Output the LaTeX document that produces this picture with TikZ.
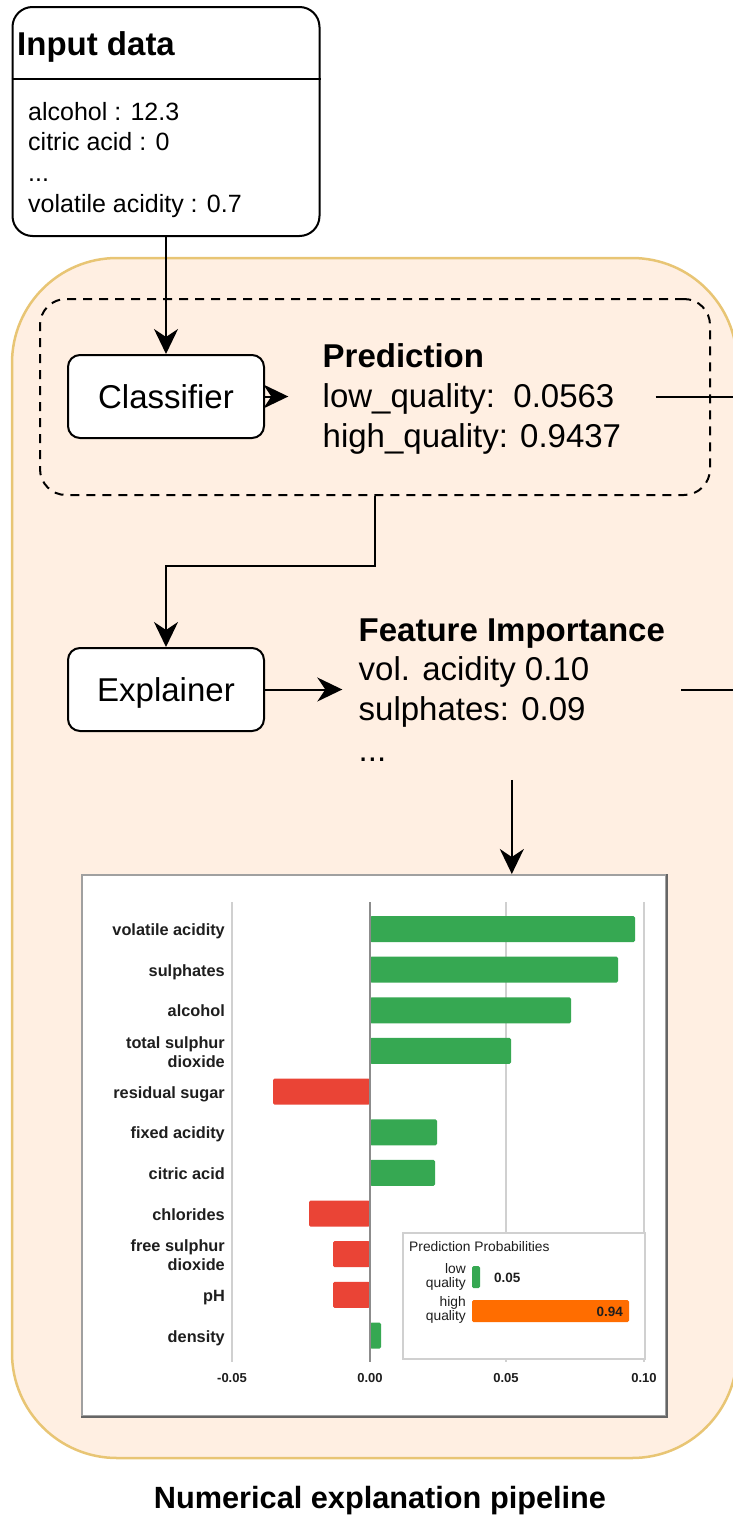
\documentclass[tikz,border=0pt]{standalone}
\usepackage{fontspec}
\setmainfont{Liberation Sans}
\usetikzlibrary{arrows.meta,fit}

\definecolor{panelfill}{HTML}{FFEFE2}
\definecolor{paneldraw}{HTML}{E8C574}
\definecolor{barpos}{HTML}{36A852}
\definecolor{barneg}{HTML}{EA4436}
\definecolor{barhigh}{HTML}{FF6D00}
\definecolor{gridgray}{HTML}{D0D0D0}
\definecolor{axisgray}{HTML}{8C8C8C}
\definecolor{framelight}{HTML}{A0A0A0}
\definecolor{framedark}{HTML}{666666}
\definecolor{labelink}{HTML}{1E1E1E}

\tikzset{
  conn/.style={line width=2pt, draw=black},
  arr/.style={conn, -{Stealth[length=25pt,width=24pt,inset=8pt]}},
  bigtxt/.style={inner sep=0pt, font=\fontsize{33}{40}\selectfont},
  intxt/.style={inner sep=0pt, font=\fontsize{25}{30}\selectfont},
  stagebox/.style={draw=black, line width=2pt, fill=white, rounded corners=12pt,
    minimum width=196pt, minimum height=83pt, inner sep=0pt,
    text height=23.6pt, text depth=0pt, font=\fontsize{33}{40}\selectfont},
  featlab/.style={inner sep=0pt, text=labelink, font=\fontsize{16.3}{19}\selectfont\bfseries},
  ticklab/.style={inner sep=0pt, text=labelink, font=\fontsize{13}{15}\selectfont\bfseries},
  legtxt/.style={inner sep=0pt, text=labelink, font=\fontsize{13.8}{15}\selectfont},
  legnum/.style={inner sep=0pt, text=labelink, font=\fontsize{13.5}{15}\selectfont\bfseries},
  gridln/.style={draw=gridgray, line width=1.5pt},
}

\begin{document}
\begin{tikzpicture}[x=1pt,y=-1pt]
\useasboundingbox (0,0) rectangle (733,1515);

% pipeline panel and the dashed classification group
\node[draw=paneldraw, fill=panelfill, line width=2.5pt, rounded corners=105pt,
      minimum width=725pt, minimum height=1200pt, inner sep=0pt] (panel) at (374.5,858) {};
\node[draw=black, line width=2pt, dash pattern=on 9pt off 7pt, rounded corners=26pt,
      minimum width=670pt, minimum height=196pt, inner sep=0pt] (grp) at (375,397) {};

% input record
\node[draw=black, line width=2pt, fill=white, rounded corners=20pt,
      minimum width=307pt, minimum height=229pt, inner sep=0pt] (inp) at (166,121.5) {};
\draw[conn] (inp.west |- 0,79) -- (inp.east |- 0,79);
\node[bigtxt, anchor=base west, font=\fontsize{33}{40}\selectfont\bfseries] (intitle) at (17,55) {Input data};
\node[intxt, anchor=base west] (in1) at (28,120) {alcohol : 12.3};
\node[intxt, anchor=base west] (in2) at (28,150.5) {citric acid : 0};
\node[intxt, anchor=base west] (in3) at (28,181) {...};
\node[intxt, anchor=base west] (in4) at (28,212) {volatile acidity : 0.7};

% processing stages
\node[stagebox] (cls) at (166,396.5) {Classifier};
\node[stagebox] (expl) at (166,689.5) {Explainer};

% prediction output
\node[bigtxt, anchor=base west, font=\fontsize{33}{40}\selectfont\bfseries] (p1) at (322.5,367.5) {Prediction};
\node[bigtxt, anchor=base west] (p2) at (322.5,407) {low\_quality:\ \ 0.0563};
\node[bigtxt, anchor=base west] (p3) at (322.5,447.5) {high\_quality: 0.9437};
\node[fit=(p1)(p2)(p3), inner xsep=34pt, inner ysep=0pt] (pred) {};
\coordinate (predout) at (745,397);

% feature importance output
\node[bigtxt, anchor=base west, font=\fontsize{33}{40}\selectfont\bfseries] (f1) at (358.5,641.5) {Feature Importance};
\node[bigtxt, anchor=base west] (f2) at (358.5,680.5) {vol. acidity 0.10};
\node[bigtxt, anchor=base west] (f3) at (358.5,720.5) {sulphates: 0.09};
\node[bigtxt, anchor=base west] (f4) at (358.5,761.5) {...};
\node[fit=(f1)(f2)(f3)(f4), inner xsep=16pt, inner ysep=18pt] (fi) {};
\coordinate (fiout) at (745,690);

% explanation chart
\node[draw=framelight, fill=white, line width=2pt, minimum width=584pt, minimum height=541pt,
      inner sep=0pt] (chart) at (374,1145.5) {};
\draw[draw=framedark, line width=2pt] (chart.north east) -- (chart.south east) -- (chart.south west);
\foreach \gx in {232,506,644} \draw[gridln] (\gx,902) -- (\gx,1362);
\foreach \i/\xa/\xb/\col in {0/370/635/barpos, 1/370/618/barpos, 2/370/571/barpos,
    3/370/511/barpos, 4/273/370/barneg, 5/370/437/barpos, 6/370/435/barpos,
    7/309/370/barneg, 8/333/370/barneg, 9/333/370/barneg, 10/370/381/barpos}
  \fill[\col, rounded corners=1.5pt] (\xa,{929+40.65*\i-13}) rectangle (\xb,{929+40.65*\i+13});
\draw[draw=axisgray, line width=1.5pt] (370,902) -- (370,1362);

\foreach \i/\lab in {0/volatile acidity, 1/sulphates, 2/alcohol, 4/residual sugar,
    5/fixed acidity, 6/citric acid, 7/chlorides, 9/pH, 10/density}
  \node[featlab, anchor=base east] (lab\i) at (225,{929+40.65*\i+6.5}) {\lab};
\node[featlab, anchor=base east] (lab3a) at (225,1048) {total sulphur};
\node[featlab, anchor=base east] (lab3b) at (225,1067) {dioxide};
\node[featlab, anchor=base east] (lab8a) at (225,1251) {free sulphur};
\node[featlab, anchor=base east] (lab8b) at (225,1270) {dioxide};

\foreach \gx/\t [count=\k] in {232/-0.05, 370/0.00, 506/0.05, 644/0.10}
  \node[ticklab, anchor=base] (tick\k) at (\gx,1382) {\t};

% prediction probabilities legend
\node[draw=gridgray, fill=white, line width=1.5pt, minimum width=242pt, minimum height=126pt,
      inner sep=0pt] (leg) at (524,1296) {};
\node[legtxt, anchor=base west] (legt) at (409,1251) {Prediction Probabilities};
\node[legtxt, anchor=base east] (lq1a) at (466,1273.5) {low};
\node[legtxt, anchor=base east] (lq1b) at (466,1287) {quality};
\node[legtxt, anchor=base east] (lq2a) at (466,1306) {high};
\node[legtxt, anchor=base east] (lq2b) at (466,1320) {quality};
\fill[barpos, rounded corners=1.5pt] (472,1266) rectangle (480,1288);
\fill[barhigh, rounded corners=1.5pt] (472,1300) rectangle (629,1322);
\node[legnum, anchor=base west] (lv1) at (494,1282) {0.05};
\node[legnum, anchor=base east] (lv2) at (623,1316) {0.94};

% connectors
\draw[arr] (inp.south) -- (cls.north);
\draw[arr] (cls.east) -- (cls.east -| pred.west);
\draw[conn] (pred.east |- predout) -- (predout);
\draw[arr] (grp.south) -- ++(0,70) -| (expl.north);
\draw[arr] (expl.east) -- (expl.east -| fi.west);
\draw[conn] (fi.east |- fiout) -- (fiout);
\draw[arr] (fi.south) -- (fi.south |- chart.north);

% caption
\node[inner sep=0pt, anchor=base, font=\fontsize{30.7}{36}\selectfont\bfseries] (caption) at (380,1508)
  {Numerical explanation pipeline};
\end{tikzpicture}
\end{document}
